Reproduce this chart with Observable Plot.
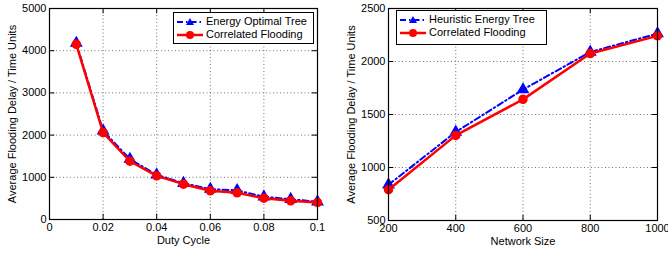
<!DOCTYPE html>
<html><head><meta charset="utf-8">
<script src="https://cdn.jsdelivr.net/npm/d3@7"></script>
<script src="https://cdn.jsdelivr.net/npm/@observablehq/plot@0.6"></script>
<style>
body{margin:0;background:#fff;font-family:"Liberation Sans",Arial,sans-serif;}
#wrap{position:relative;width:668px;height:255px;}
.panel{position:absolute;top:0;}
.legend{position:absolute;background:#fff;border:1px solid #000;font-size:11px;line-height:13px;padding:2px 4px 2px 3px;box-sizing:border-box;}
.row{display:flex;align-items:center;height:13px;}
.row svg{margin-right:3px;}
</style></head>
<body><div id="wrap"></div>
<script>
// Left chart: Duty cycle
const dutyCycle = [0.01,0.02,0.03,0.04,0.05,0.06,0.07,0.08,0.09,0.1];
const energyOptimalTree = [4180,2100,1430,1060,860,720,690,540,480,420];
const correlatedFloodingA = [4150,2060,1380,1035,837,680,632,505,442,403];
const xTicksA = [0,0.02,0.04,0.06,0.08,0.1];
const yTicksA = [0,1000,2000,3000,4000,5000];

// Right chart: Network size
const networkSize = [200,400,600,800,1000];
const heuristicEnergyTree = [837,1335,1735,2090,2263];
const correlatedFloodingB = [790,1303,1643,2075,2242];
const xTicksB = [200,400,600,800,1000];
const yTicksB = [500,1000,1500,2000,2500];

const yLabel = "Average Flooding Delay / Time Units";

function makeChart({xs, blue, red, xTicks, yTicks, xDomain, yDomain, xLabel, width, ml, mr, mt, mb, fmt}) {
  const blueData = xs.map((x,i)=>({x, y: blue[i]}));
  const redData = xs.map((x,i)=>({x, y: red[i]}));
  const ty = (yDomain[1]-yDomain[0])*0.025;
  const tx = (xDomain[1]-xDomain[0])*0.02;
  return Plot.plot({
    width, height: 255,
    marginLeft: ml, marginRight: mr, marginTop: mt, marginBottom: mb,
    style: {fontFamily: '"Liberation Sans", Arial, sans-serif', fontSize: "11px", color: "#000", background: "#fff", overflow: "visible"},
    x: {domain: xDomain, ticks: xTicks},
    y: {domain: yDomain, ticks: yTicks},
    marks: [
      Plot.gridX(xTicks, {stroke: "#000", strokeOpacity: 0.55, strokeDasharray: "1,2.5"}),
      Plot.gridY(yTicks, {stroke: "#000", strokeOpacity: 0.55, strokeDasharray: "1,2.5"}),
      Plot.ruleX(xTicks, {x: d=>d, y1: yDomain[0], y2: yDomain[0]+ty, stroke: "#000"}),
      Plot.ruleX(xTicks, {x: d=>d, y1: yDomain[1], y2: yDomain[1]-ty, stroke: "#000"}),
      Plot.ruleY(yTicks, {y: d=>d, x1: xDomain[0], x2: xDomain[0]+tx, stroke: "#000"}),
      Plot.ruleY(yTicks, {y: d=>d, x1: xDomain[1], x2: xDomain[1]-tx, stroke: "#000"}),
      Plot.axisX(xTicks, {tickSize: 0, tickPadding: 4, label: null, tickFormat: fmt, fontSize: 11}),
      Plot.axisY(yTicks, {tickSize: 0, tickPadding: 3, label: null, tickFormat: d => String(d), fontSize: 11}),
      Plot.line(blueData, {x: "x", y: "y", stroke: "#0000ff", strokeWidth: 2, strokeDasharray: "6,3,1.5,3"}),
      Plot.dot(blueData, {x: "x", y: "y", symbol: "triangle", r: 3.8, fill: "#0000ff", stroke: "#0000ff"}),
      Plot.line(redData, {x: "x", y: "y", stroke: "#ff0000", strokeWidth: 2.5}),
      Plot.dot(redData, {x: "x", y: "y", r: 4, fill: "#ff0000", stroke: "#ff0000"}),
      Plot.frame({stroke: "#000", strokeWidth: 1.2}),
      Plot.text([xLabel], {frameAnchor: "bottom", dy: 24, fontSize: 11}),
      Plot.text([yLabel], {frameAnchor: "left", rotate: -90, dx: -37, textAnchor: "middle", fontSize: 11})
    ]
  });
}

const wrap = document.getElementById("wrap");
const left = makeChart({xs: dutyCycle, blue: energyOptimalTree, red: correlatedFloodingA,
  xTicks: xTicksA, yTicks: yTicksA, xDomain: [0,0.1], yDomain: [0,5000], xLabel: "Duty Cycle",
  width: 334, ml: 49, mr: 17, mt: 8, mb: 36, fmt: d => d === 0 ? "0" : String(d)});
const right = makeChart({xs: networkSize, blue: heuristicEnergyTree, red: correlatedFloodingB,
  xTicks: xTicksB, yTicks: yTicksB, xDomain: [200,1000], yDomain: [500,2500], xLabel: "Network Size",
  width: 334, ml: 54, mr: 11, mt: 8, mb: 35, fmt: d => String(d)});
left.classList.add("panel"); left.style.left = "0px";
right.classList.add("panel"); right.style.left = "334px";
wrap.appendChild(left); wrap.appendChild(right);

function sample(kind){
  if (kind === "blue") return `<svg width="26" height="10"><line x1="0" y1="5" x2="26" y2="5" stroke="#0000ff" stroke-width="2" stroke-dasharray="6,3,1.5,3"/><path d="M13,1 L17,8 L9,8 Z" fill="#0000ff"/></svg>`;
  return `<svg width="26" height="10"><line x1="0" y1="5" x2="26" y2="5" stroke="#ff0000" stroke-width="2.5"/><circle cx="13" cy="5" r="4" fill="#ff0000"/></svg>`;
}
function legend(x, y, w, h, name){
  const d = document.createElement("div");
  d.className = "legend";
  Object.assign(d.style, {left: x+"px", top: y+"px", width: w+"px", height: h+"px"});
  d.innerHTML = `<div class="row">${sample("blue")}<span>${name}</span></div><div class="row">${sample("red")}<span>Correlated Flooding</span></div>`;
  wrap.appendChild(d);
}
legend(173, 12, 141, 32, "Energy Optimal Tree");
legend(396, 10, 151, 35, "Heuristic Energy Tree");
</script></body></html>
